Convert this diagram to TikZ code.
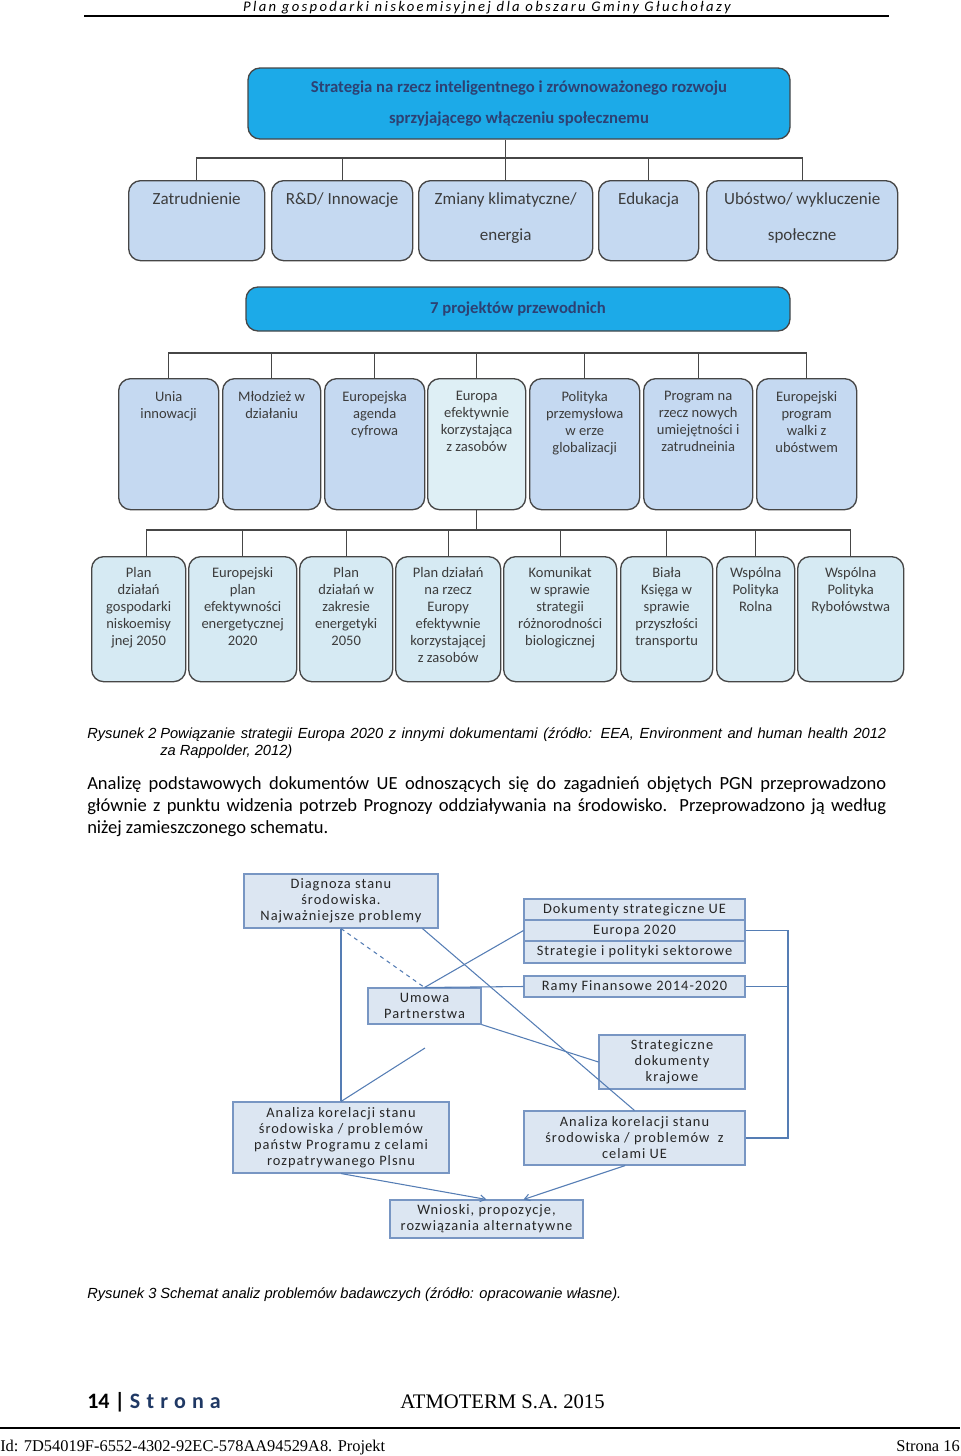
\documentclass[tikz,border=0pt]{standalone}
\usepackage{fontspec}
\setmainfont{Carlito}
\newfontfamily\capfont{Liberation Sans}
\newfontfamily\serfont{Liberation Serif}
\newfontfamily\hdrfont[LetterSpace=16]{Carlito}
\newfontfamily\schfont[LetterSpace=7]{Carlito}
\newfontfamily\stronafont[LetterSpace=28]{Carlito}
\usetikzlibrary{arrows.meta,calc}

\definecolor{bannerblue}{RGB}{28,170,232}
\definecolor{bannertext}{RGB}{45,65,115}
\definecolor{boxfill}{RGB}{197,217,241}
\definecolor{boxlight}{RGB}{222,239,245}
\definecolor{docfill}{RGB}{214,234,243}
\definecolor{boxline}{RGB}{70,70,70}
\definecolor{boxtext}{RGB}{60,60,60}
\definecolor{schfill}{RGB}{220,230,242}
\definecolor{schline}{RGB}{120,150,195}
\definecolor{schlink}{RGB}{85,125,180}
\definecolor{stronablue}{RGB}{31,56,100}

\tikzset{
  banner/.style={draw=boxline, line width=1pt, fill=bannerblue, rounded corners=9pt,
    text=bannertext, font=\bfseries\fontsize{12.5}{23.25}\selectfont, align=center, inner sep=0pt},
  tile/.style={draw=boxline, line width=1pt, fill=boxfill, rounded corners=9pt,
    anchor=north west, inner sep=0pt},
  tilesize/.style 2 args={minimum width=#1*0.75pt, minimum height=#2*0.75pt},
  tiletext/.style={anchor=north, inner sep=0pt, align=center, text=boxtext,
    font=\fontsize{10.9}{12.75}\selectfont},
  bigtext/.style={tiletext, font=\fontsize{12.75}{27}\selectfont},
  sch/.style={draw=schline, line width=0.8pt, fill=schfill, inner sep=1pt, align=center,
    font=\schfont\fontsize{10.8}{12}\selectfont, text=black!85},
  link/.style={draw=schlink, line width=0.8pt},
  captext/.style={anchor=base west, inner sep=0pt, font=\capfont\itshape\fontsize{11}{12.75}\selectfont},
  bodytext/.style={anchor=base west, inner sep=0pt, font=\fontsize{13.9}{16.5}\selectfont}
}

\begin{document}
\begin{tikzpicture}[x=0.75pt,y=-0.75pt]
\useasboundingbox (0,0) rectangle (960,1456);

% page header
\node[anchor=base, inner sep=0pt, font=\hdrfont\itshape\fontsize{11}{12}\selectfont] (hdr) at (487,12)
  {Plan gospodarki niskoemisyjnej dla obszaru Gminy Głuchołazy};
\draw[line width=1.6pt] (84,16) -- (889,16);

% Europa 2020 and its priorities
\node[banner, tilesize={542}{71}] (ban1) at (519,103.5)
  {Strategia na rzecz inteligentnego i zrównoważonego rozwoju\\sprzyjającego włączeniu społecznemu};

\node[tile, tilesize={136}{80}] (z1) at (128,180) {};
\node[tile, tilesize={141}{80}] (z2) at (271,180) {};
\node[tile, tilesize={174}{80}] (z3) at (418,180) {};
\node[tile, tilesize={100}{80}] (z4) at (598,180) {};
\node[tile, tilesize={191}{80}] (z5) at (706,180) {};
\node[bigtext] (z1t) at ([yshift=-9.6pt]z1.north) {Zatrudnienie};
\node[bigtext] (z2t) at ([yshift=-9.6pt]z2.north) {R\&D/ Innowacje};
\node[bigtext] (z3t) at ([yshift=-9.6pt]z3.north) {Zmiany klimatyczne/\\energia};
\node[bigtext] (z4t) at ([yshift=-9.6pt]z4.north) {Edukacja};
\node[bigtext] (z5t) at ([yshift=-9.6pt]z5.north) {Ubóstwo/ wykluczenie\\społeczne};

\coordinate (bus1) at (0,158);
\draw[boxline, line width=0.9pt] (z3.north |- ban1.south) -- (z3.north);
\draw[boxline, line width=0.9pt] (z1.north) |- (z5.north |- bus1) -- (z5.north);
\foreach \b in {z2,z4}
  \draw[boxline, line width=0.9pt] (\b.north) -- (\b.north |- bus1);

% flagship initiatives
\node[banner, tilesize={544}{44}] (ban2) at (518,309) {7 projektów przewodnich};

\node[tile, tilesize={100}{131}] (u1) at (118,378) {};
\node[tile, tilesize={98}{131}] (u2) at (222,378) {};
\node[tile, tilesize={100}{131}] (u3) at (324,378) {};
\node[tile, tilesize={98}{131}, fill=boxlight] (u4) at (427,378) {};
\node[tile, tilesize={110}{131}] (u5) at (529,378) {};
\node[tile, tilesize={109}{131}] (u6) at (643,378) {};
\node[tile, tilesize={100}{131}] (u7) at (756,378) {};
\node[tiletext] (u1t) at ([yshift=-9.6pt]u1.north) {Unia\\innowacji};
\node[tiletext] (u2t) at ([yshift=-9.6pt]u2.north) {Młodzież w\\działaniu};
\node[tiletext] (u3t) at ([yshift=-9.6pt]u3.north) {Europejska\\agenda\\cyfrowa};
\node[tiletext] (u4t) at ([yshift=-9.6pt]u4.north) {Europa\\efektywnie\\korzystająca\\z zasobów};
\node[tiletext] (u5t) at ([yshift=-9.6pt]u5.north) {Polityka\\przemysłowa\\w erze\\globalizacji};
\node[tiletext] (u6t) at ([yshift=-9.6pt]u6.north) {Program na\\rzecz nowych\\umiejętności i\\zatrudneinia};
\node[tiletext] (u7t) at ([yshift=-9.6pt]u7.north) {Europejski\\program\\walki z\\ubóstwem};

\coordinate (bus2) at (0,353);
\draw[boxline, line width=0.9pt] (u1.north) |- (u7.north |- bus2) -- (u7.north);
\foreach \b in {u2,u3,u4,u5,u6}
  \draw[boxline, line width=0.9pt] (\b.north) -- (\b.north |- bus2);

% related documents
\node[tile, tilesize={94}{125}, fill=docfill] (s1) at (91,556) {};
\node[tile, tilesize={108}{125}, fill=docfill] (s2) at (188,556) {};
\node[tile, tilesize={93}{125}, fill=docfill] (s3) at (299,556) {};
\node[tile, tilesize={105}{125}, fill=docfill] (s4) at (395,556) {};
\node[tile, tilesize={113}{125}, fill=docfill] (s5) at (503,556) {};
\node[tile, tilesize={92}{125}, fill=docfill] (s6) at (620,556) {};
\node[tile, tilesize={78}{125}, fill=docfill] (s7) at (716,556) {};
\node[tile, tilesize={106}{125}, fill=docfill] (s8) at (797,556) {};
\node[tiletext] (s1t) at ([yshift=-8.6pt]s1.north) {Plan\\działań\\gospodarki\\niskoemisy\\jnej 2050};
\node[tiletext] (s2t) at ([yshift=-8.6pt]s2.north) {Europejski\\plan\\efektywności\\energetycznej\\2020};
\node[tiletext] (s3t) at ([yshift=-8.6pt]s3.north) {Plan\\działań w\\zakresie\\energetyki\\2050};
\node[tiletext] (s4t) at ([yshift=-8.6pt]s4.north) {Plan działań\\na rzecz\\Europy\\efektywnie\\korzystającej\\z zasobów};
\node[tiletext] (s5t) at ([yshift=-8.6pt]s5.north) {Komunikat\\w sprawie\\strategii\\różnorodności\\biologicznej};
\node[tiletext] (s6t) at ([yshift=-8.6pt]s6.north) {Biała\\Księga w\\sprawie\\przyszłości\\transportu};
\node[tiletext] (s7t) at ([yshift=-8.6pt]s7.north) {Wspólna\\Polityka\\Rolna};
\node[tiletext] (s8t) at ([yshift=-8.6pt]s8.north) {Wspólna\\Polityka\\Rybołówstwa};

\coordinate (bus3) at (0,530);
\draw[boxline, line width=0.9pt] (u4.south) -- (u4.south |- bus3);
\draw[boxline, line width=0.9pt] ([xshift=6pt]s1.north) |- (s8.north |- bus3) -- (s8.north);
\foreach \b in {s2,s3,s4,s5,s6,s7}
  \draw[boxline, line width=0.9pt] (\b.north) -- (\b.north |- bus3);

% caption 2 and paragraph
\node[captext] (cap2) at (87,738) {Rysunek 2};
\node[captext] (cap2a) at (160,738)
  {\makebox[544.5pt][s]{Powiązanie strategii Europa 2020 z innymi dokumentami (źródło: EEA, Environment and human health 2012}};
\node[captext] (cap2b) at (160,755) {za Rappolder, 2012)};

\node[bodytext] (par1) at (87,789)
  {\makebox[599.25pt][s]{Analizę podstawowych dokumentów UE odnoszących się do zagadnień objętych PGN przeprowadzono}};
\node[bodytext] (par2) at (87,811)
  {\makebox[599.25pt][s]{głównie z punktu widzenia potrzeb Prognozy oddziaływania na środowisko. Przeprowadzono ją według}};
\node[bodytext] (par3) at (87,833) {niżej zamieszczonego schematu.};

% analysis scheme
\node[sch, tilesize={194}{54}] (diag) at (341,901) {Diagnoza stanu\\środowiska.\\Najważniejsze problemy};
\node[sch, tilesize={221}{21}] (dok) at (634.5,909.5) {Dokumenty strategiczne UE};
\node[sch, tilesize={221}{21}] (eu) at (634.5,930.5) {Europa 2020};
\node[sch, tilesize={221}{22}] (sek) at (634.5,952) {Strategie i polityki sektorowe};
\node[sch, tilesize={221}{21}] (ramy) at (634.5,986.5) {Ramy Finansowe 2014-2020};
\node[sch, tilesize={113}{36}] (umowa) at (424.5,1006) {Umowa\\Partnerstwa};
\node[sch, tilesize={146}{54}] (strat) at (672,1062) {Strategiczne\\dokumenty\\krajowe};
\node[sch, tilesize={216}{71}] (anl) at (341,1137.5)
  {Analiza korelacji stanu\\środowiska / problemów\\państw Programu z celami\\rozpatrywanego Plsnu};
\node[sch, tilesize={221}{54}] (anr) at (634.5,1138)
  {Analiza korelacji stanu\\środowiska / problemów\ \ z\\celami UE};
\node[sch, tilesize={193}{38}] (wn) at (486.5,1219) {Wnioski, propozycje,\\rozwiązania alternatywne};

\coordinate (brk) at (788,0);
\coordinate (umfree) at (425,1048);
\draw[link] (diag.south) -- (anl.north);
\draw[link, dashed] (diag.south) -- (umowa.north);
\draw[link] ($(diag.south)!0.835!(diag.south east)$) -- (anr.north);
\draw[link] (umowa.north) -- (eu.west);
\draw[link] (umowa.north) -- (ramy.west);
\draw[link] (umowa.south east) -- (strat.west);
\draw[link] (umfree) -- (anl.north);
\draw[link] (eu.east) -- (eu.east -| brk) |- (anr.east);
\draw[link] (ramy.east) -- (ramy.east -| brk);
\draw[link, -{Straight Barb[length=4pt,width=5pt]}] (anl.south) -- (wn.north);
\draw[link, -{Straight Barb[length=4pt,width=5pt]}] ([xshift=-7pt]anr.south) -- ($(wn.north)+(37,0)$);

\node[captext] (cap3) at (87,1298) {Rysunek 3};
\node[captext] (cap3a) at (160,1298) {Schemat analiz problemów badawczych (źródło: opracowanie własne).};

% page footer
\node[anchor=base west, inner sep=0pt, font=\bfseries\fontsize{16.5}{18}\selectfont] (pgno) at (87,1408)
  {14 | \textcolor{stronablue}{\stronafont Strona}};
\node[anchor=base west, inner sep=0pt, font=\serfont\fontsize{15.5}{18}\selectfont] (firm) at (400,1408)
  {ATMOTERM S.A. 2015};
\draw[line width=1.5pt] (0,1428) -- (960,1428);
\node[anchor=base west, inner sep=0pt, font=\serfont\fontsize{12.3}{14}\selectfont] (docid) at (0,1451)
  {Id: 7D54019F-6552-4302-92EC-578AA94529A8. Projekt};
\node[anchor=base east, inner sep=0pt, font=\serfont\fontsize{12.3}{14}\selectfont] (sheet) at (960,1451)
  {Strona 16};
\end{tikzpicture}
\end{document}
